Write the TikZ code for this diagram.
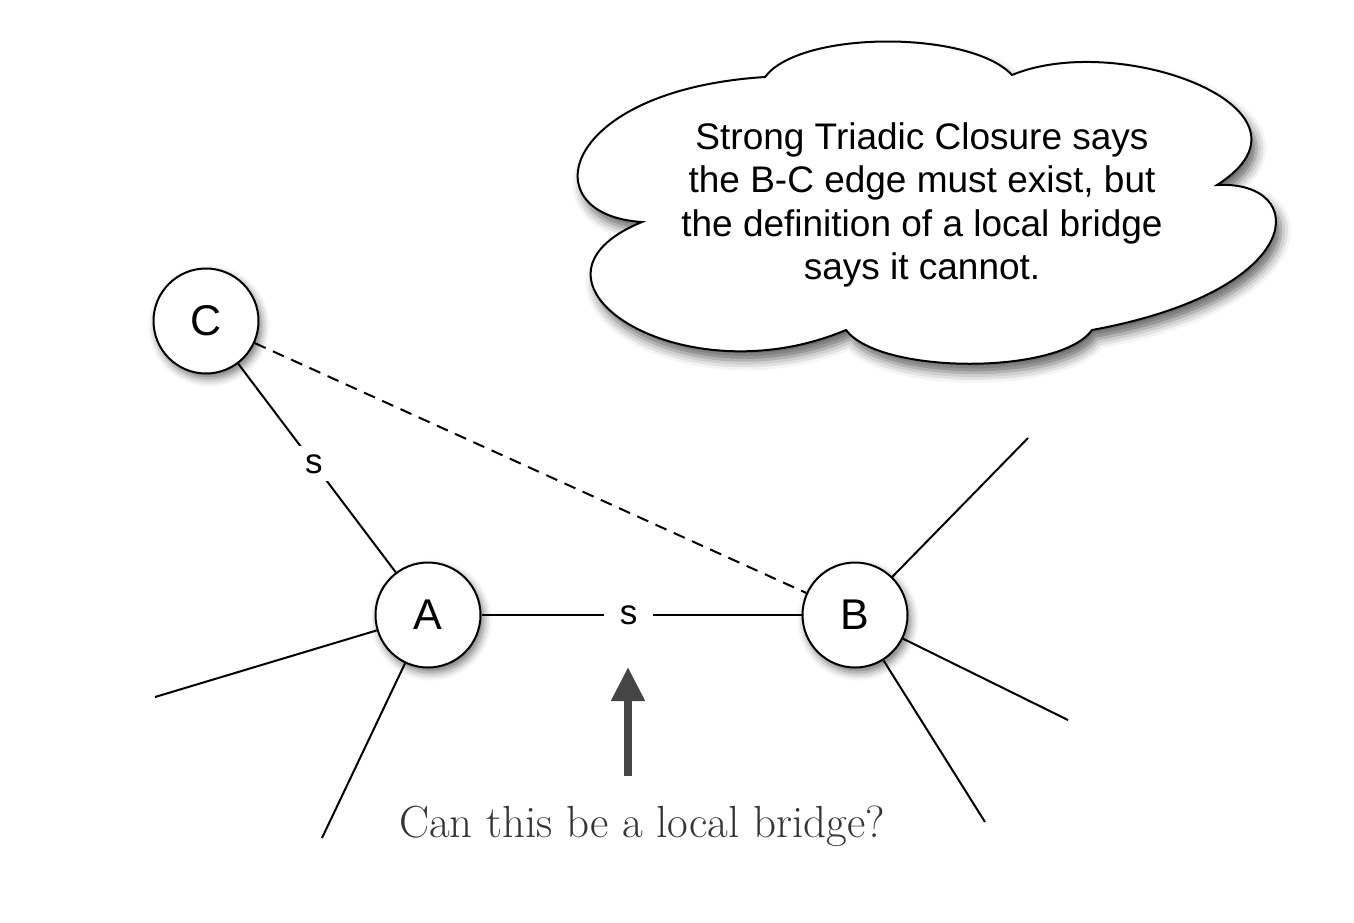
\documentclass[tikz,border=0pt]{standalone}
\usepackage{fontspec}
\newfontfamily\helv{Liberation Sans}
\usetikzlibrary{shadows.blur,arrows.meta}
\definecolor{arrowgray}{HTML}{454545}
\definecolor{textgray}{HTML}{353535}
\begin{document}
\begin{tikzpicture}[x=1pt,y=-1pt,
  vertex/.style={circle, draw=black, line width=2pt, fill=white, minimum size=105pt, inner sep=0pt,
    font=\helv\fontsize{43}{43}\selectfont,
    blur shadow={shadow xshift=3pt, shadow yshift=-5pt, shadow blur radius=8pt, shadow opacity=55}},
  edge/.style={line width=2pt, black},
  dashedge/.style={line width=2pt, black, dash pattern=on 12pt off 8pt},
  slabel/.style={fill=white, inner xsep=16pt, inner ysep=8pt, font=\helv\fontsize{35}{35}\selectfont},
  cloudshape/.style={draw=black, line width=2pt, fill=white,
    blur shadow={shadow xshift=5pt, shadow yshift=-9pt, shadow blur radius=10pt, shadow opacity=60}},
  cloudtext/.style={align=center, font=\helv\fontsize{37}{43.5}\selectfont},
  bigarrow/.style={line width=8pt, arrowgray, -{Triangle[width=32pt,length=34pt]}},
  question/.style={text=textgray, font=\fontsize{45}{45}\selectfont}
]
\useasboundingbox (0,0) rectangle (1354,922);

% cloud
\path[cloudshape] (642,222)
  .. controls (530,215) and (560,90) .. (765,77)
  .. controls (800,30) and (970,30) .. (1012,75)
  .. controls (1120,30) and (1335,110) .. (1217,185)
  .. controls (1310,180) and (1310,290) .. (1092,330)
  .. controls (1060,375) and (880,375) .. (846,330)
  .. controls (680,400) and (500,280) .. (642,222) -- cycle;
\node[cloudtext] (claim) at (922,205) {Strong Triadic Closure says\\the B-C edge must exist, but\\the definition of a local bridge\\says it cannot.};

% nodes
\node[vertex] (C) at (206,321) {C};
\node[vertex] (A) at (428,615) {A};
\node[vertex] (B) at (855,615) {B};

% stub ends
\coordinate (a1) at (155,697);
\coordinate (a2) at (322,838);
\coordinate (b1) at (1028,438);
\coordinate (b2) at (1068,720);
\coordinate (b3) at (985,822);

% edges
\draw[edge] (C) -- node[slabel, pos=0.48] (sCA) {s} (A);
\draw[edge] (A) -- node[slabel, pos=0.46] (sAB) {s} (B);
\draw[dashedge] (C) -- (B);
\draw[edge] (A) -- (a1);
\draw[edge] (A) -- (a2);
\draw[edge] (B) -- (b1);
\draw[edge] (B) -- (b2);
\draw[edge] (B) -- (b3);

% arrow and question
\coordinate (arrowtail) at (628,776);
\coordinate (arrowtip) at (628,667);
\draw[bigarrow] (arrowtail) -- (arrowtip);
\node[question] (q) at (642,826) {Can this be a local bridge?};
\end{tikzpicture}
\end{document}
